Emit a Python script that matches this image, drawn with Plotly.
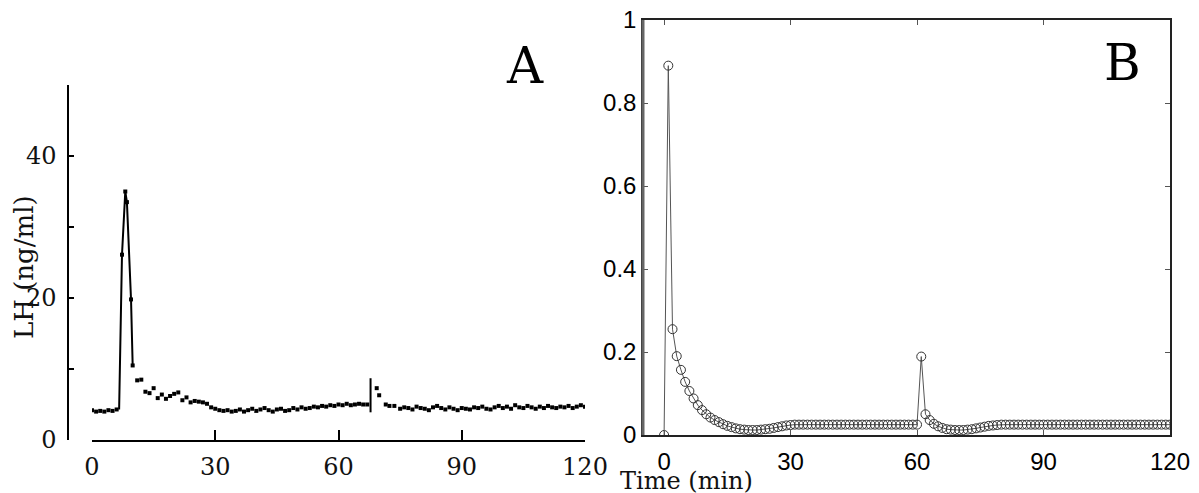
import plotly.graph_objects as go

W, H = 1199, 493
PAGE_PAD = 8  # the html body margin shifts the figure by this many pixels

# ---------------------------------------------------------------------------
# Panel A: measured LH (ng/ml) vs time (min)
# ---------------------------------------------------------------------------
a_time = [0, 1, 2, 3, 4, 5, 6,
          7.3, 8.1, 8.5, 9.5, 9.9, 11, 12, 13, 14, 15, 16, 17, 18, 19,
          20, 21, 22, 23, 24, 25, 26, 27, 28, 29, 30, 31, 32, 33, 34, 35,
          36, 37, 38, 39, 40, 41, 42, 43, 44, 45, 46, 47, 48, 49, 50, 51,
          52, 53, 54, 55, 56, 57, 58, 59, 60, 61, 62, 63, 64, 65, 66, 67,
          69.3, 69.9, 71.5, 72.4, 73.6, 75, 76, 77, 78, 79, 80, 81, 82, 83,
          84, 85, 86, 87, 88, 89, 90, 91, 92, 93, 94, 95, 96, 97, 98, 99,
          100, 101, 102, 103, 104, 105, 106, 107, 108, 109, 110, 111, 112,
          113, 114, 115, 116, 117, 118, 119, 120]
a_lh = [4.2, 4.0, 4.1, 4.0, 4.2, 4.1, 4.3,
        26.1, 35.0, 33.5, 19.8, 10.5, 8.4, 8.5, 6.8, 6.6, 7.3, 5.9, 6.4, 5.8, 6.2,
        6.5, 6.7, 5.6, 6.0, 5.3, 5.5, 5.4, 5.3, 5.1, 4.6, 4.4, 4.2, 4.1, 4.2, 4.0, 4.1,
        4.3, 4.0, 4.2, 4.4, 4.1, 4.3, 4.5, 4.2, 4.0, 4.3, 4.4, 4.1, 4.2, 4.5, 4.3, 4.6,
        4.4, 4.5, 4.7, 4.6, 4.8, 4.7, 4.9, 4.8, 5.0, 4.9, 5.1, 4.9, 5.0, 5.1, 5.0, 5.0,
        7.3, 6.3, 5.0, 4.8, 4.8, 4.4, 4.6, 4.5, 4.3, 4.7, 4.5, 4.4, 4.2, 4.6,
        4.8, 4.5, 4.3, 4.6, 4.4, 4.2, 4.5, 4.4, 4.3, 4.6, 4.5, 4.7, 4.4, 4.3, 4.6, 4.8,
        4.5, 4.7, 4.4, 4.9, 4.6, 4.5, 4.8, 4.6, 4.4, 4.7, 4.5, 4.8, 4.6,
        4.5, 4.7, 4.6, 4.8, 4.5, 4.7, 4.9, 4.7]

# connected segments drawn in the original plot
a_peak_time = [6.6, 7.3, 8.1, 8.5, 9.5, 9.9]
a_peak_lh = [4.3, 26.1, 35.0, 33.5, 19.8, 10.5]
a_jump_time = [67.8, 67.8]
a_jump_lh = [3.9, 8.7]

# ---------------------------------------------------------------------------
# Panel B: model output, one sample per minute
# ---------------------------------------------------------------------------
b_time = list(range(0, 121))
b_val = [0.0, 0.89, 0.255, 0.19, 0.157, 0.128, 0.106, 0.088, 0.072, 0.06,
         0.05, 0.042, 0.036, 0.031, 0.026, 0.022, 0.019, 0.016, 0.014, 0.013,
         0.012, 0.012, 0.012, 0.013, 0.014, 0.015, 0.017, 0.019, 0.021, 0.023,
         0.024, 0.025, 0.025, 0.025, 0.025, 0.025, 0.025, 0.025, 0.025, 0.025,
         0.025, 0.025, 0.025, 0.025, 0.025, 0.025, 0.025, 0.025, 0.025, 0.025,
         0.025, 0.025, 0.025, 0.025, 0.025, 0.025, 0.025, 0.025, 0.025, 0.025,
         0.025, 0.189, 0.05, 0.036, 0.027, 0.021, 0.017, 0.014, 0.013, 0.012,
         0.012, 0.012, 0.013, 0.014, 0.016, 0.018, 0.02, 0.022, 0.023, 0.024,
         0.025, 0.025, 0.025, 0.025, 0.025, 0.025, 0.025, 0.025, 0.025, 0.025,
         0.025, 0.025, 0.025, 0.025, 0.025, 0.025, 0.025, 0.025, 0.025, 0.025,
         0.025, 0.025, 0.025, 0.025, 0.025, 0.025, 0.025, 0.025, 0.025, 0.025,
         0.025, 0.025, 0.025, 0.025, 0.025, 0.025, 0.025, 0.025, 0.025, 0.025,
         0.025]

SERIF = "DejaVu Serif"
SANS = "Liberation Sans"


def px_x(p):
    # screen pixel -> paper fraction
    return (p - PAGE_PAD) / W


def px_y(p):
    return 1 - (p - PAGE_PAD) / H


fig = go.Figure()

fig.add_trace(go.Scatter(
    x=a_peak_time, y=a_peak_lh, mode="lines",
    line=dict(color="black", width=2),
    xaxis="x", yaxis="y", showlegend=False, hoverinfo="skip",
))
fig.add_trace(go.Scatter(
    x=a_jump_time, y=a_jump_lh, mode="lines",
    line=dict(color="black", width=2),
    xaxis="x", yaxis="y", showlegend=False, hoverinfo="skip",
))
fig.add_trace(go.Scatter(
    x=a_time, y=a_lh, mode="markers",
    marker=dict(symbol="square", size=4, color="black"),
    xaxis="x", yaxis="y", showlegend=False,
))

fig.add_trace(go.Scatter(
    x=b_time, y=b_val, mode="lines+markers",
    line=dict(color="#555555", width=1),
    marker=dict(symbol="circle-open", size=9, color="#333333", line=dict(width=1)),
    xaxis="x2", yaxis="y2", showlegend=False,
))

fig.update_layout(
    width=W, height=H,
    margin=dict(l=0, r=0, t=0, b=0, autoexpand=False),
    paper_bgcolor="white", plot_bgcolor="white",
    xaxis=dict(
        domain=[px_x(92), px_x(585)], range=[0, 120],
        anchor="y", showgrid=False, zeroline=False, automargin=False,
        showline=True, linecolor="black", linewidth=1.5,
        ticks="inside", ticklen=10, tickwidth=1.5, tickcolor="black",
        tickvals=[0, 30, 60, 90, 120],
        tickfont=dict(family=SERIF, size=24, color="#111111"),
        ticklabelstandoff=4, ticklabeloverflow="allow",
    ),
    yaxis=dict(
        domain=[px_y(440), px_y(85)], range=[0, 50],
        anchor="free", position=px_x(68), automargin=False,
        showgrid=False, zeroline=False,
        showline=True, linecolor="black", linewidth=1.5,
        ticks="inside", ticklen=5, tickwidth=1.5, tickcolor="black",
        tickvals=[0, 20, 40],
        minor=dict(tickvals=[10, 30, 50], ticks="inside", ticklen=5, tickcolor="black"),
        tickfont=dict(family=SERIF, size=24, color="#111111"),
        ticklabelstandoff=6, ticklabeloverflow="allow",
    ),
    xaxis2=dict(
        domain=[px_x(643), px_x(1170)], range=[-5, 120],
        anchor="y2", showgrid=False, zeroline=False, automargin=False,
        showline=True, mirror="ticks", linecolor="#222222", linewidth=1.5,
        ticks="inside", ticklen=5, tickwidth=1, tickcolor="#555555",
        tickvals=[0, 30, 60, 90, 120],
        tickfont=dict(family=SANS, size=24, color="black"),
        ticklabelstandoff=4, ticklabeloverflow="allow",
    ),
    yaxis2=dict(
        domain=[px_y(435), px_y(20)], range=[0, 1],
        anchor="x2", showgrid=False, zeroline=False, automargin=False,
        showline=True, mirror="ticks", linecolor="#222222", linewidth=1.5,
        ticks="inside", ticklen=5, tickwidth=1, tickcolor="#555555",
        tickvals=[0, 0.2, 0.4, 0.6, 0.8, 1],
        tickfont=dict(family=SANS, size=24, color="black"),
        ticklabelstandoff=0, ticklabeloverflow="allow",
    ),
    shapes=[
        # heavier left frame edge of panel B
        dict(type="line", xref="paper", yref="paper",
             x0=px_x(643), x1=px_x(643), y0=px_y(435), y1=px_y(20),
             line=dict(color="#666666", width=3)),
    ],
    annotations=[
        dict(text="A", xref="paper", yref="paper", x=px_x(525), y=px_y(66),
             xanchor="center", yanchor="middle", showarrow=False,
             font=dict(family=SERIF, size=50, color="black")),
        dict(text="B", xref="paper", yref="paper", x=px_x(1122), y=px_y(63),
             xanchor="center", yanchor="middle", showarrow=False,
             font=dict(family=SERIF, size=50, color="black")),
        dict(text="LH (ng/ml)", xref="paper", yref="paper", x=px_x(24), y=px_y(267),
             xanchor="center", yanchor="middle", textangle=-90, showarrow=False,
             font=dict(family=SERIF, size=26, color="#111111")),
        dict(text="Time (min)", xref="paper", yref="paper", x=px_x(686), y=px_y(481),
             xanchor="center", yanchor="middle", showarrow=False,
             font=dict(family=SERIF, size=24, color="#111111")),
    ],
)

fig.write_html("out.html")
